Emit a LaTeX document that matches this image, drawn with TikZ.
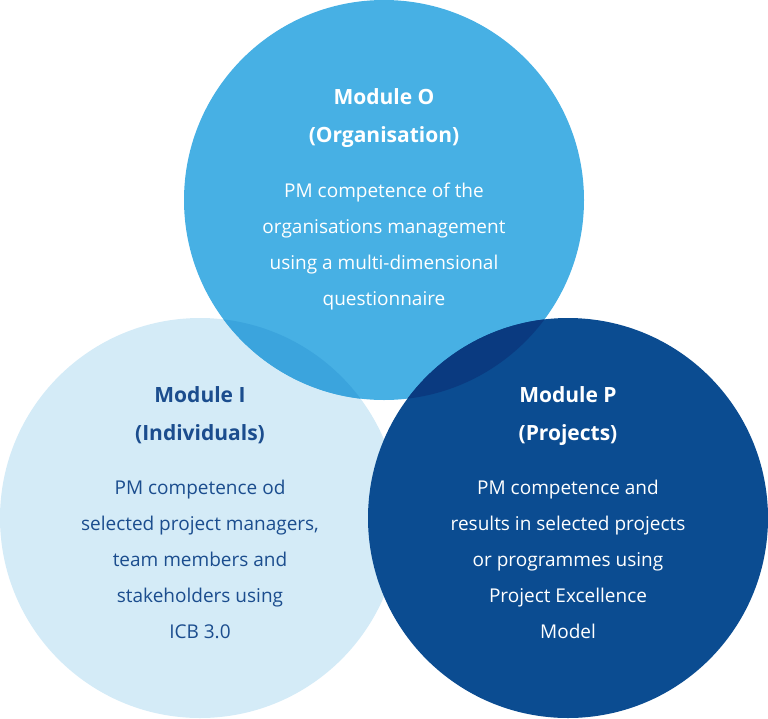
\documentclass[tikz,border=0pt]{standalone}
\usepackage{fontspec}
\setmainfont{Open Sans}
\begin{document}
\definecolor{ctop}{HTML}{47B0E4}
\definecolor{cleft}{HTML}{D4EBF7}
\definecolor{cright}{HTML}{0B4C91}
\definecolor{clt}{HTML}{3BA4DD}
\definecolor{ctr}{HTML}{0A3A80}
\definecolor{ctxt}{HTML}{1B4D8E}
\begin{tikzpicture}[x=1pt,y=-1pt,
 ttl/.style={font=\fontsize{21}{38}\selectfont\bfseries,align=center,inner sep=0pt,anchor=north},
 bdy/.style={font=\fontsize{19}{36}\selectfont,align=center,inner sep=0pt,anchor=north}]
\useasboundingbox (0,0) rectangle (768,718);
\fill[cleft] (200,518) circle (200);
\fill[ctop] (384,200) circle (200);
\begin{scope}\clip (200,518) circle (200); \fill[clt] (384,200) circle (200);\end{scope}
\fill[cright] (568,518) circle (200);
\begin{scope}\clip (384,200) circle (200); \fill[ctr] (568,518) circle (200);\end{scope}
\node[ttl,text=white] (to) at (384,88) {Module O\\(Organisation)};
\node[bdy,text=white] (tb) at (384,183) {PM competence of the\\organisations management\\using a multi-dimensional\\questionnaire};
\node[ttl,text=ctxt] (lo) at (200,386) {Module I\\(Individuals)};
\node[bdy,text=ctxt] (lb) at (200,480) {PM competence od\\selected project managers,\\team members and\\stakeholders using\\ICB 3.0};
\node[ttl,text=white] (ro) at (568,386) {Module P\\(Projects)};
\node[bdy,text=white] (rb) at (568,480) {PM competence and\\results in selected projects\\or programmes using\\Project Excellence\\Model};
\end{tikzpicture}
\end{document}
